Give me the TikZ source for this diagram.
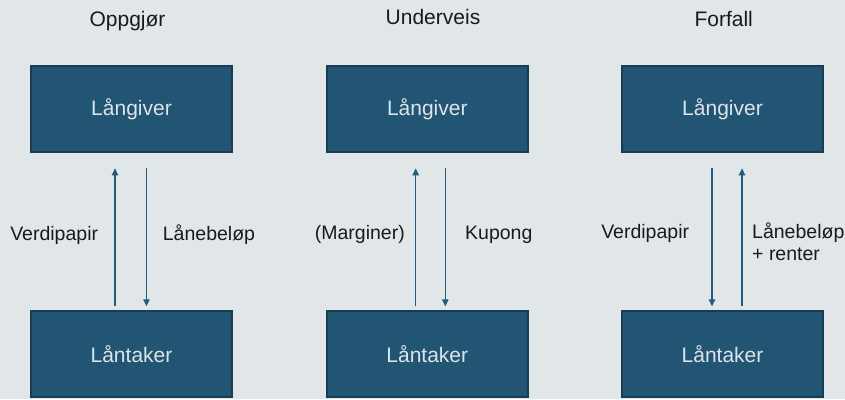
\documentclass[tikz,border=0pt]{standalone}
\usepackage{fontspec}
\setmainfont{Liberation Sans}
\usetikzlibrary{arrows.meta,calc}
\definecolor{bgc}{HTML}{E1E6E9}
\definecolor{boxc}{HTML}{215573}
\definecolor{boxb}{HTML}{183C52}
\definecolor{boxt}{HTML}{DCE3E9}
\definecolor{arrc}{HTML}{245A7A}
\definecolor{txtc}{HTML}{1A1A1A}
\begin{document}
\begin{tikzpicture}[x=1pt,y=-1pt,
  party/.style={draw=boxb,line width=1.4pt,fill=boxc,text=boxt,minimum width=201pt,minimum height=86pt,inner sep=0pt,font=\fontsize{21}{25}\selectfont},
  title/.style={anchor=base,inner sep=0pt,text=txtc,font=\fontsize{21}{25}\selectfont},
  lbl/.style={inner sep=0pt,text=txtc,font=\fontsize{19.5}{22.5}\selectfont},
  arr/.style={draw=arrc,line width=1.1pt,-{Triangle[length=7pt,width=6.5pt]}}]
\useasboundingbox (0,0) rectangle (845,399);
\fill[bgc] (0,0) rectangle (845,399);
% titles
\node[title] (t1) at (127.5,26.7) {Oppgjør};
\node[title] (t2) at (433,24) {Underveis};
\node[title] (t3) at (723.7,26.7) {Forfall};
% boxes
\node[party] (g1) at (131.5,109) {Långiver};
\node[party] (g2) at (427.3,109) {Långiver};
\node[party] (g3) at (722.5,109) {Långiver};
\node[party] (l1) at (131.5,354) {Låntaker};
\node[party] (l2) at (427.3,354) {Låntaker};
\node[party] (l3) at (722.5,354) {Låntaker};
% arrows column 1
\draw[arr] ($(l1.north)+(-16.5,-4)$) -- ($(g1.south)+(-16.5,15.7)$);
\draw[arr] ($(g1.south)+(15,15.7)$) -- ($(l1.north)+(15,-4)$);
% arrows column 2
\draw[arr] ($(l2.north)+(-11.6,-4)$) -- ($(g2.south)+(-11.6,15.7)$);
\draw[arr] ($(g2.south)+(18,15.7)$) -- ($(l2.north)+(18,-4)$);
% arrows column 3
\draw[arr] ($(g3.south)+(-10.5,15.7)$) -- ($(l3.north)+(-10.5,-4)$);
\draw[arr] ($(l3.north)+(19.5,-4)$) -- ($(g3.south)+(19.5,15.7)$);
% labels
\node[lbl,anchor=base east] (v1) at (98.3,240) {Verdipapir};
\node[lbl,anchor=base west] (b1) at (162.7,240) {Lånebeløp};
\node[lbl,anchor=base east] (m2) at (405,239) {(Marginer)};
\node[lbl,anchor=base west] (k2) at (465,239) {Kupong};
\node[lbl,anchor=base east] (v3) at (689.3,238.3) {Verdipapir};
\node[lbl,anchor=base west,align=left] (b3) at (752,260.8) {Lånebeløp\\+ renter};
\end{tikzpicture}
\end{document}
